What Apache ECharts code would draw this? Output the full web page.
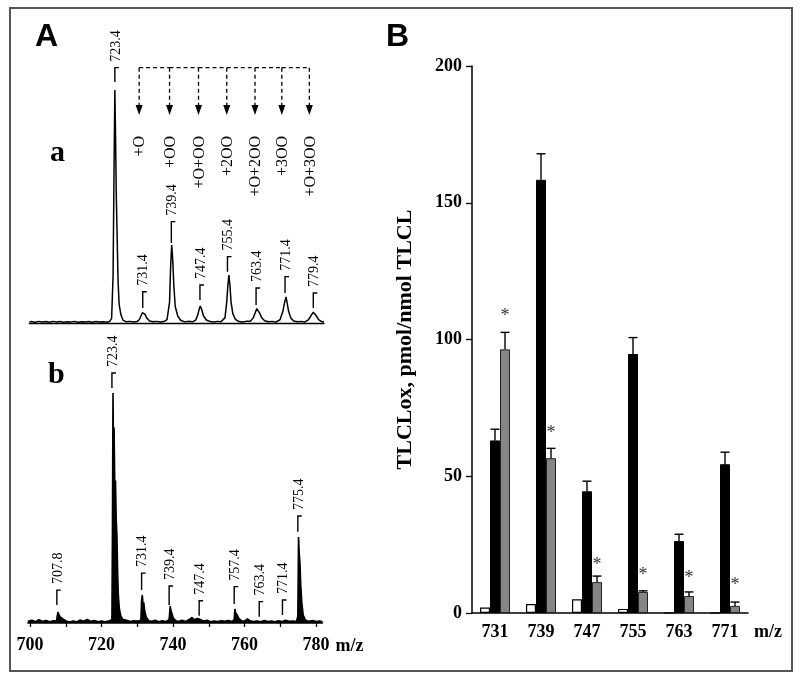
<!DOCTYPE html>
<html><head><meta charset="utf-8">
<script src="https://cdn.jsdelivr.net/npm/echarts@6/dist/echarts.min.js"></script>
<style>html,body{margin:0;padding:0;background:#fff}#c{width:800px;height:679px}</style>
</head><body><div id="c"></div>
<script>
// ---------- Panel A, spectrum a (relative intensity, %) ----------
const spectrumA = [
[699.4,0.4],[700,0.6],[701,0.3],[702,0.7],[703,0.4],[704,0.6],[705,0.3],[706,0.7],[707,0.4],[708,0.6],[709,0.3],[710,0.5],
[711,0.4],[712,0.7],[713,0.3],[714,0.5],[715,0.4],[716,0.6],[717,0.3],[718,0.6],[719,0.4],[720,0.5],[721,0.3],[721.8,0.6],
[722.4,2],[722.8,20],[723.1,70],[723.3,100],[723.5,80],[723.7,55],[723.9,40],[724.2,18],[724.5,8],[725,3.5],[725.6,1.2],[726.5,0.5],
[727.5,0.7],[728.5,0.4],[729.5,0.6],[730.1,1.4],[730.6,3],[731.0,4.4],[731.3,4.7],[731.7,3.8],[732.2,2.2],[733,0.9],[734,0.5],
[735,0.7],[736,0.4],[737,0.6],[737.9,1.5],[738.6,9],[738.9,24],[739.2,33.5],[739.5,27],[739.8,16],[740.2,7],[740.9,3],[741.7,1.2],
[742.8,0.5],[743.8,0.7],[745,0.5],[745.9,1.2],[746.5,3.5],[746.9,6],[747.2,7.3],[747.6,5.8],[748.1,3],[748.9,1.3],[750,0.6],
[751,0.4],[752,0.7],[753,0.5],[754.1,2.2],[754.6,9],[754.9,16],[755.2,20.6],[755.5,16],[755.8,9],[756.3,4],[757.0,1.6],
[758,0.6],[759,0.4],[760,0.7],[761.2,0.8],[762.0,2.2],[762.6,4.5],[763.0,6.2],[763.4,6],[763.8,4.2],[764.4,2.2],[765.2,1],
[766.3,0.5],[767.3,0.7],[768.3,0.4],[769.5,1.4],[770.3,5],[770.8,9],[771.2,11.2],[771.5,8.5],[771.9,5],[772.5,2.2],[773.3,0.9],
[774.4,0.5],[775.4,0.7],[776.4,0.4],[777.5,1.5],[778.3,3.5],[778.8,4.6],[779.2,4.3],[779.7,3],[780.3,1.4],[781.1,0.6],[781.8,0.4]
];
// ---------- Panel A, spectrum b (relative intensity, %) ----------
const spectrumB = [
[699.4,0.8],[700.5,1.2],[701.5,0.6],[702.5,1.4],[703.5,0.7],[704.5,1.1],[705.5,0.5],[706.5,1.0],[707.4,0.8],[707.6,3],[707.8,4.8],
[708.1,3.5],[708.5,2.6],[709,2],[709.6,1.3],[710.3,0.8],[711.2,0.4],[712,0.9],[713,0.5],[714,1.3],[715,0.8],[716,1.5],[717,0.7],
[718,1.1],[719,0.5],[720,0.9],[721,0.5],[722,0.8],[722.9,1.5],[723.05,40],[723.2,100],[723.35,75],[723.5,85],[723.7,60],[723.9,62],
[724.1,45],[724.3,38],[724.5,22],[724.7,12],[725,6],[725.4,3],[726,1.5],[727,1.2],[728,0.6],[729,1.0],[730,0.8],[731,1.2],[731.2,10],
[731.4,12.2],[731.6,8],[731.8,9],[732.1,5],[732.5,2.5],[733.2,1],[734,0.7],[735,1.2],[736,0.5],[737,1.0],[738,0.6],[738.9,1.5],
[739.2,7.4],[739.4,5.5],[739.7,4],[740.1,2],[740.8,1],[741.5,0.6],[742.5,1.2],[743.5,0.7],[744.5,1.5],[745.3,2.4],[746,1.4],
[746.8,2],[747.6,1.5],[748.5,0.9],[749.5,1.2],[750.5,0.5],[751.5,0.9],[752.5,0.6],[753.5,1.0],[754.5,0.7],[755.5,1.1],[756.5,0.6],
[757.1,1.5],[757.3,6.1],[757.5,4.5],[757.9,3.5],[758.4,2],[759.1,1],[760,0.8],[760.8,1.8],[761.5,1.0],[762.5,0.6],[763.5,0.9],
[764.5,0.5],[765.5,1.1],[766.5,0.6],[767.5,0.8],[768.5,0.5],[769.5,1.0],[770.5,0.6],[771.4,1.2],[772.5,0.7],[773.5,0.9],[774.5,0.6],
[774.9,3],[775.1,37.4],[775.3,30],[775.5,26],[775.7,17],[776.0,9],[776.4,3.5],[777.0,1.3],[778,0.7],[779,1.1],[780,0.6],[781,0.9],[781.8,0.5]
];
// peak annotations (bracket position in m/z, bracket top / bottom in % units)
const peakLabelsA   = ['723.4','731.4','739.4','747.4','755.4','763.4','771.4','779.4'];
const bracketMzA    = [723.3, 731.1, 739.1, 747.1, 754.8, 762.8, 770.9, 778.8];
const bracketTopA   = [109.6, 13.4, 43.5, 16.3, 28.5, 15.0, 19.9, 12.9];
const bracketBotA   = [103.4, 6.4, 34.3, 9.9, 22.0, 7.7, 12.9, 6.4];
const peakLabelsB   = ['707.8','723.4','731.4','739.4','747.4','757.4','763.4','771.4','775.4'];
const bracketMzB    = [707.5, 722.9, 731.2, 738.9, 747.3, 757.1, 764.1, 770.6, 774.9];
const bracketTopB   = [14.3, 108.7, 21.7, 16.1, 9.7, 15.8, 9.3, 10.0, 46.5];
const bracketBotB   = [7.8, 102.2, 14.3, 7.8, 3.2, 8.3, 2.7, 3.5, 39.7];
// oxidation arrows in spectrum a
const oxLabels   = ['+O','+OO','+O+OO','+2OO','+O+2OO','+3OO','+O+3OO'];
const oxArrowMz  = [730.1, 738.6, 746.7, 754.6, 762.5, 770.0, 777.7];
const oxLineTop = 109.6, oxArrowTip = 89.3, oxTextTop = 80.3;
const mzTicks  = [700,710,720,730,740,750,760,770,780];
const mzLabels = [700,720,740,760,780];
// ---------- Panel B ----------
const categories    = ['731','739','747','755','763','771'];
const controlValues = [2.0, 3.3, 5.0, 1.5, 0, 0];
const blackValues   = [63.1, 158.4, 44.5, 94.7, 26.3, 54.4];
const grayValues    = [96.4, 56.6, 11.3, 7.7, 6.2, 2.6];
const blackErr      = [4.1, 9.5, 3.7, 6.0, 2.5, 4.4];
const grayErr       = [6.2, 3.6, 2.2, 0.4, 1.5, 1.4];
const starValues    = [110, 67, 19, 15.3, 14, 11.7];

const SERIF = '"Liberation Serif", "Times New Roman", serif';
const SANS = '"Liberation Sans", Arial, sans-serif';

function bracketRender(labels){
  return function(params, api){
    const i = params.dataIndex;
    const top = api.coord([api.value(0), api.value(1)]);
    const bot = api.coord([api.value(0), api.value(2)]);
    return {type:'group', children:[
      {type:'polyline', shape:{points:[[bot[0],bot[1]],[top[0],top[1]],[top[0]+4,top[1]]]},
       style:{stroke:'#000', lineWidth:1.4, fill:null}},
      {type:'text', x: top[0]+1, y: top[1]-6, rotation: Math.PI/2,
       style:{text: labels[i], x:0, y:0, align:'left', verticalAlign:'middle',
              font:'14px ' + SERIF, fill:'#000'}}
    ]};
  };
}

const chart = echarts.init(document.getElementById('c'), null, {renderer:'canvas'});
const option = {
  animation:false,
  backgroundColor:'#fff',
  grid:[
    {left:29.4, top:90, width:294.6, height:233, outerBoundsMode:'none'},
    {left:27.9, top:393, width:294.6, height:230, outerBoundsMode:'none'},
    {left:472, top:66, width:276, height:547, outerBoundsMode:'none'}
  ],
  xAxis:[
    {gridIndex:0, type:'value', min:699.4, max:781.8,
     axisLine:{show:true, lineStyle:{color:'#000', width:1.3}}, axisTick:{show:false},
     axisLabel:{show:false}, splitLine:{show:false}},
    {gridIndex:1, type:'value', min:699.4, max:781.8,
     axisLine:{show:true, lineStyle:{color:'#000', width:1.5}},
     axisTick:{show:true, customValues:mzTicks, length:4, lineStyle:{color:'#000', width:1.3}},
     axisLabel:{customValues:mzLabels, margin:13, color:'#000', fontFamily:SERIF, fontWeight:'bold', fontSize:18},
     splitLine:{show:false},
     name:'m/z', nameLocation:'end', nameGap:13,
     nameTextStyle:{color:'#000', fontFamily:SERIF, fontWeight:'bold', fontSize:18, verticalAlign:'top', padding:[14,0,0,0]}},
    {gridIndex:2, type:'category', data:categories,
     axisLine:{show:true, lineStyle:{color:'#000', width:1.5}}, axisTick:{show:false},
     axisLabel:{margin:10, color:'#000', fontFamily:SERIF, fontWeight:'bold', fontSize:18},
     name:'m/z', nameLocation:'end', nameGap:6,
     nameTextStyle:{color:'#000', fontFamily:SERIF, fontWeight:'bold', fontSize:18, verticalAlign:'top', padding:[10,0,0,0]}}
  ],
  yAxis:[
    {gridIndex:0, type:'value', min:0, max:100, show:false},
    {gridIndex:1, type:'value', min:0, max:100, show:false},
    {gridIndex:2, type:'value', min:0, max:200, interval:50,
     axisLine:{show:true, lineStyle:{color:'#000', width:1.5}},
     axisTick:{show:true, length:6, lineStyle:{color:'#000', width:1.3}},
     axisLabel:{margin:10, color:'#000', fontFamily:SERIF, fontWeight:'bold', fontSize:18},
     splitLine:{show:false},
     name:'TLCLox, pmol/nmol TLCL', nameLocation:'middle', nameRotate:90, nameGap:56,
     nameTextStyle:{color:'#000', fontFamily:SERIF, fontWeight:'bold', fontSize:22}}
  ],
  series:[
    {type:'line', xAxisIndex:0, yAxisIndex:0, data:spectrumA, showSymbol:false, symbol:'none',
     lineStyle:{color:'#000', width:1.5}, z:3},
    {type:'line', xAxisIndex:1, yAxisIndex:1, data:spectrumB, showSymbol:false, symbol:'none',
     lineStyle:{color:'#000', width:1.6}, areaStyle:{color:'#000', opacity:1, origin:'start'}, z:3},
    {type:'custom', xAxisIndex:0, yAxisIndex:0, clip:false, renderItem:bracketRender(peakLabelsA),
     data: bracketMzA.map((m,i)=>[m, bracketTopA[i], bracketBotA[i]]), z:4},
    {type:'custom', xAxisIndex:1, yAxisIndex:1, clip:false, renderItem:bracketRender(peakLabelsB),
     data: bracketMzB.map((m,i)=>[m, bracketTopB[i], bracketBotB[i]]), z:4},
    {type:'custom', xAxisIndex:0, yAxisIndex:0, clip:false,
     data: oxArrowMz.map(m=>[m, oxLineTop, oxArrowTip, oxTextTop]),
     renderItem:function(params, api){
       const i = params.dataIndex;
       const top = api.coord([api.value(0), api.value(1)]);
       const tip = api.coord([api.value(0), api.value(2)]);
       const tx = api.coord([api.value(0), api.value(3)]);
       const ch = [
         {type:'line', shape:{x1:top[0], y1:top[1], x2:tip[0], y2:tip[1]-9},
          style:{stroke:'#000', lineWidth:1.3, lineDash:[4,3]}},
         {type:'polygon', shape:{points:[[tip[0]-3.5, tip[1]-10],[tip[0]+3.5, tip[1]-10],[tip[0], tip[1]]]},
          style:{fill:'#000'}},
         {type:'text', x:tx[0]+1, y:tx[1], rotation:Math.PI/2,
          style:{text:oxLabels[i], x:0, y:0, align:'right', verticalAlign:'middle', font:'16px ' + SERIF, fill:'#000'}}
       ];
       if (i < oxArrowMz.length - 1) {
         const nx = api.coord([oxArrowMz[i+1], api.value(1)]);
         ch.push({type:'line', shape:{x1:top[0], y1:top[1], x2:nx[0], y2:nx[1]},
                  style:{stroke:'#000', lineWidth:1.3, lineDash:[4,3]}});
       }
       return {type:'group', children:ch};
     }, z:4},
    {type:'bar', xAxisIndex:2, yAxisIndex:2, data:controlValues, barWidth:10, barGap:'0%',
     itemStyle:{color:'#fff', borderColor:'#000', borderWidth:1.2}},
    {type:'bar', xAxisIndex:2, yAxisIndex:2, data:blackValues, barWidth:10, barGap:'0%',
     itemStyle:{color:'#000', borderColor:'#000', borderWidth:1}},
    {type:'bar', xAxisIndex:2, yAxisIndex:2, data:grayValues, barWidth:10, barGap:'0%',
     itemStyle:{color:'#858585', borderColor:'#222', borderWidth:1}},
    {type:'custom', xAxisIndex:2, yAxisIndex:2, clip:false,
     data: categories.map((c,i)=>[i, blackValues[i], blackValues[i]+blackErr[i], 0])
           .concat(categories.map((c,i)=>[i, grayValues[i], grayValues[i]+grayErr[i], 1])),
     renderItem:function(params, api){
       const off = api.value(3) === 0 ? 0 : 10;
       const a = api.coord([api.value(0), api.value(1)]);
       const b = api.coord([api.value(0), api.value(2)]);
       const x = a[0] + off;
       return {type:'group', children:[
         {type:'line', shape:{x1:x, y1:a[1], x2:x, y2:b[1]}, style:{stroke:'#000', lineWidth:1.4}},
         {type:'line', shape:{x1:x-4.5, y1:b[1], x2:x+4.5, y2:b[1]}, style:{stroke:'#000', lineWidth:1.4}}
       ]};
     }, z:5},
    {type:'custom', xAxisIndex:2, yAxisIndex:2, clip:false,
     data: starValues.map((v,i)=>[i, v]),
     renderItem:function(params, api){
       const p = api.coord([api.value(0), api.value(1)]);
       return {type:'text', x:p[0]+10, y:p[1]+4,
               style:{text:'*', x:0, y:0, align:'center', verticalAlign:'middle', font:'18px ' + SERIF, fill:'#333'}};
     }, z:5}
  ],
  graphic:[
    {type:'rect', shape:{x:10, y:8, width:782, height:663}, style:{fill:null, stroke:'#555', lineWidth:2}, silent:true},
    {type:'text', x:35, y:37, style:{text:'A', font:'bold 32px ' + SANS, fill:'#000', verticalAlign:'middle'}},
    {type:'text', x:386, y:37, style:{text:'B', font:'bold 32px ' + SANS, fill:'#000', verticalAlign:'middle'}},
    {type:'text', x:50, y:153, style:{text:'a', font:'bold 30px ' + SERIF, fill:'#000', verticalAlign:'middle'}},
    {type:'text', x:48, y:375, style:{text:'b', font:'bold 30px ' + SERIF, fill:'#000', verticalAlign:'middle'}}
  ]
};
chart.setOption(option);
</script>
</body></html>
